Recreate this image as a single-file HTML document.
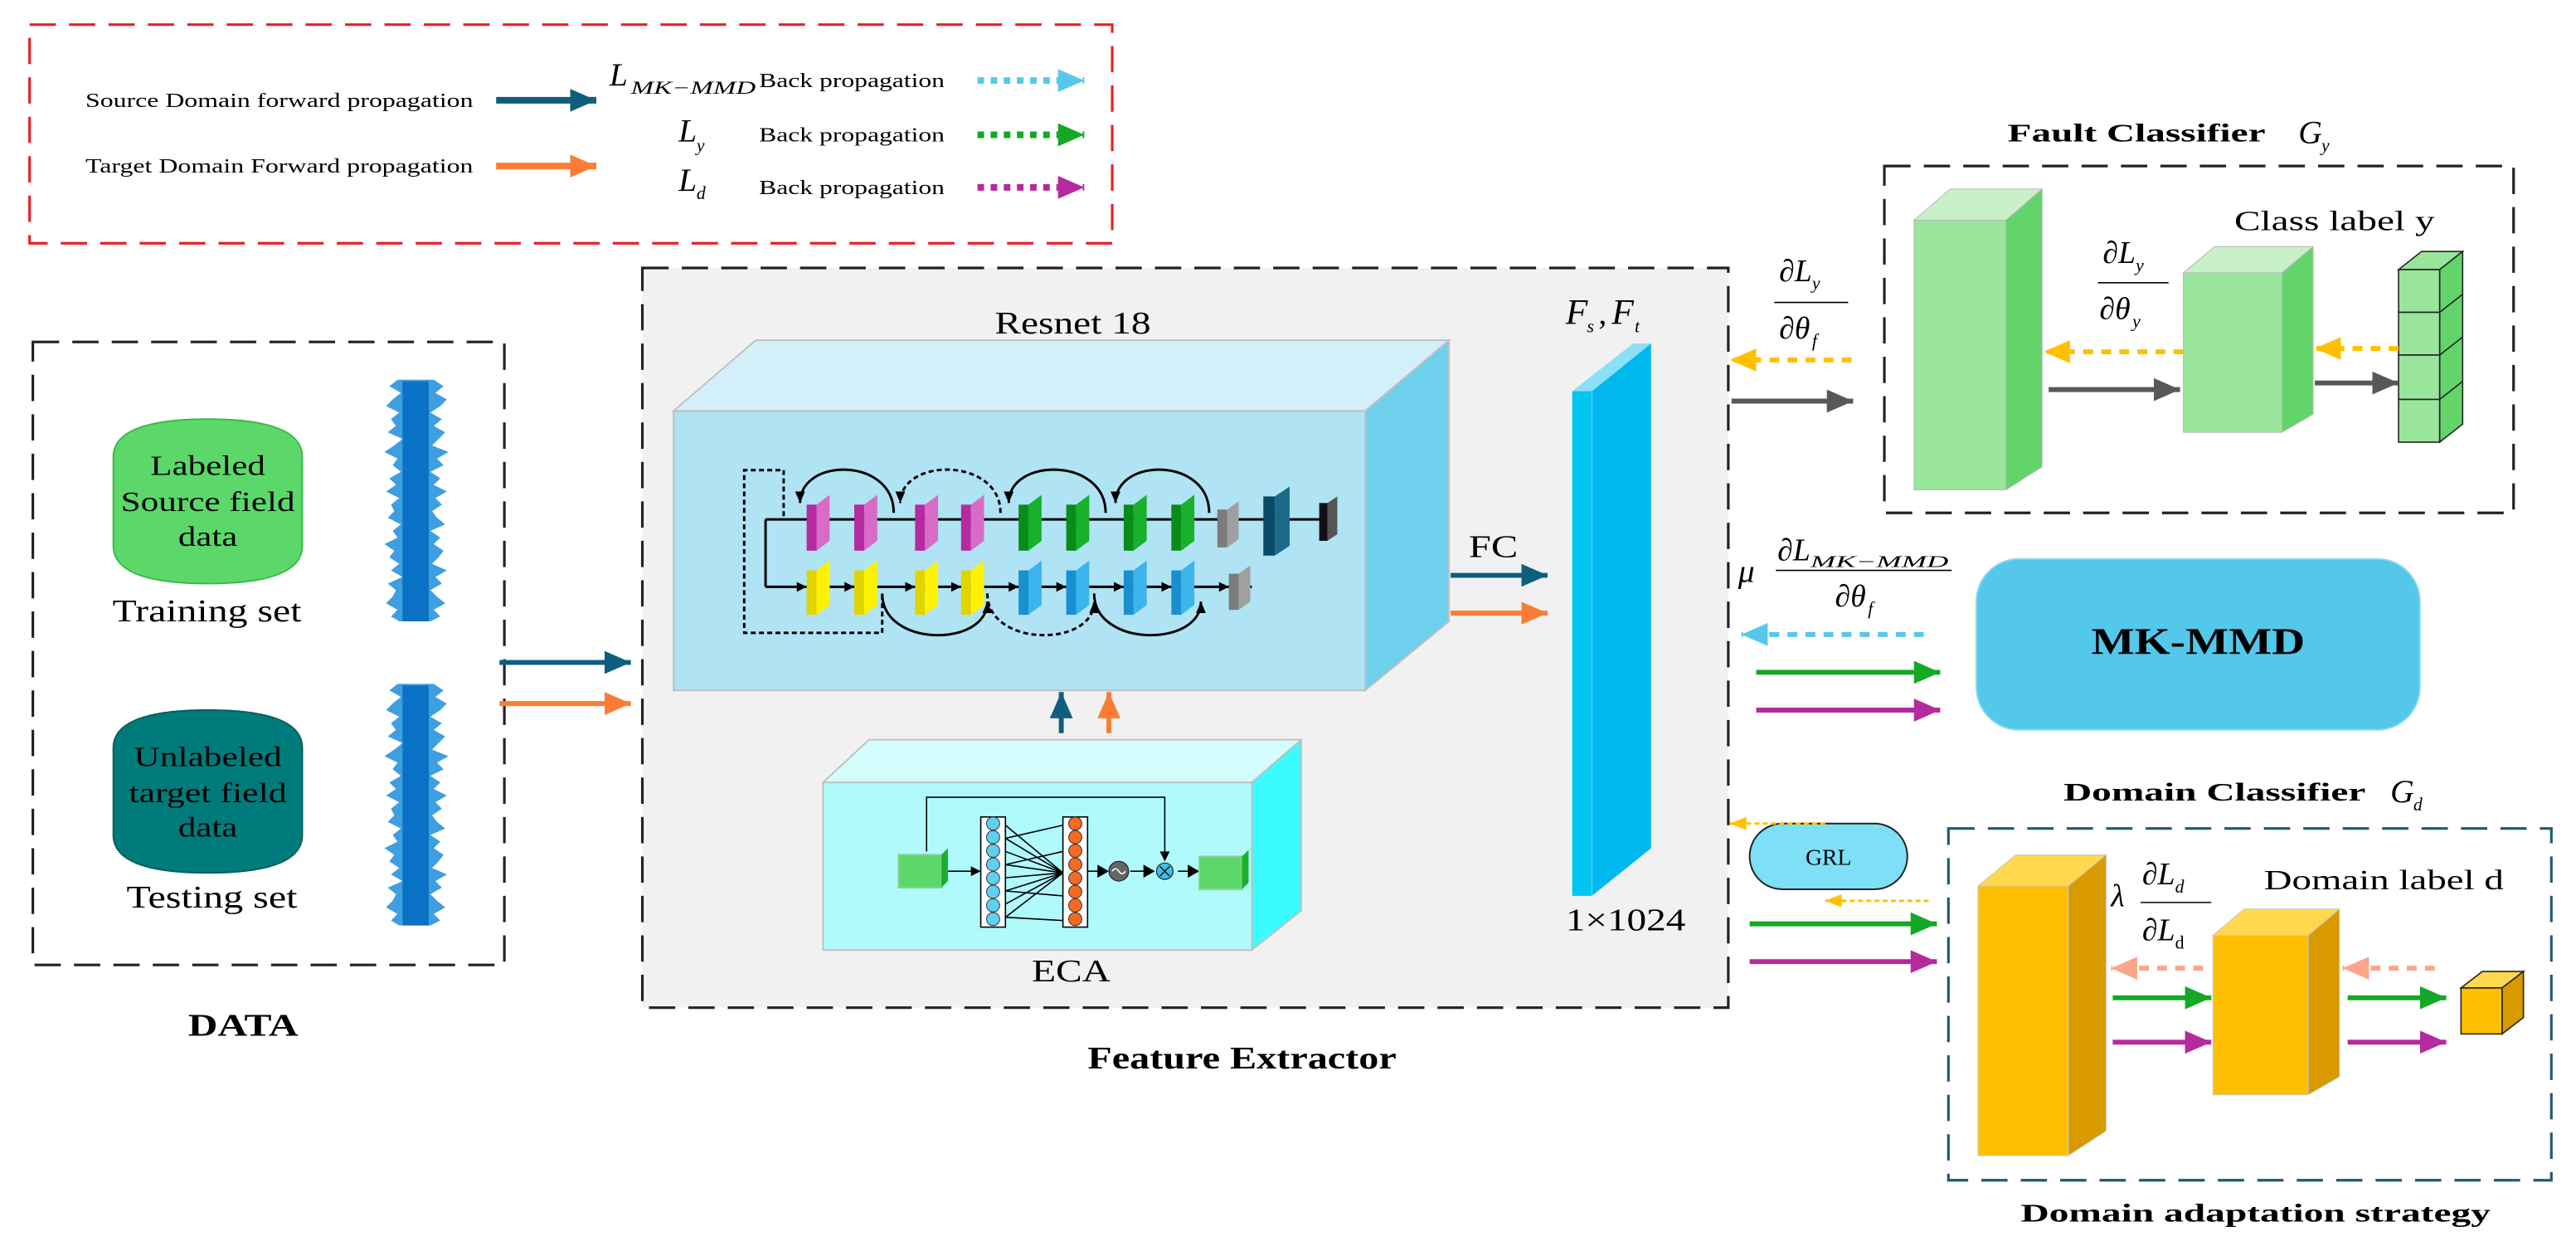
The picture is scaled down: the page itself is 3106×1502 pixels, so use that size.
<!DOCTYPE html>
<html><head><meta charset="utf-8"><style>html,body{margin:0;padding:0;background:#fff}svg{display:block}text{font-family:"Liberation Serif",serif}</style></head>
<body>
<svg width="3106" height="1502" viewBox="0 0 1568 758" preserveAspectRatio="none" xmlns="http://www.w3.org/2000/svg">
<defs>
<marker id="mT" markerWidth="16" markerHeight="14" refX="16" refY="7" orient="auto" markerUnits="userSpaceOnUse"><path d="M0,0 L16,7 L0,14 z" fill="#0e5f7e"/></marker>
<marker id="mO" markerWidth="16" markerHeight="14" refX="16" refY="7" orient="auto" markerUnits="userSpaceOnUse"><path d="M0,0 L16,7 L0,14 z" fill="#fb7d35"/></marker>
<marker id="mG" markerWidth="16" markerHeight="14" refX="16" refY="7" orient="auto" markerUnits="userSpaceOnUse"><path d="M0,0 L16,7 L0,14 z" fill="#14a826"/></marker>
<marker id="mM" markerWidth="16" markerHeight="14" refX="16" refY="7" orient="auto" markerUnits="userSpaceOnUse"><path d="M0,0 L16,7 L0,14 z" fill="#b52a9e"/></marker>
<marker id="mK" markerWidth="16" markerHeight="14" refX="16" refY="7" orient="auto" markerUnits="userSpaceOnUse"><path d="M0,0 L16,7 L0,14 z" fill="#585858"/></marker>
<marker id="mY" markerWidth="16" markerHeight="14" refX="16" refY="7" orient="auto" markerUnits="userSpaceOnUse"><path d="M0,0 L16,7 L0,14 z" fill="#ffc000"/></marker>
<marker id="mC" markerWidth="16" markerHeight="14" refX="16" refY="7" orient="auto" markerUnits="userSpaceOnUse"><path d="M0,0 L16,7 L0,14 z" fill="#56c8ec"/></marker>
<marker id="mS" markerWidth="16" markerHeight="14" refX="16" refY="7" orient="auto" markerUnits="userSpaceOnUse"><path d="M0,0 L16,7 L0,14 z" fill="#fba68a"/></marker>
<marker id="mYs" markerWidth="10" markerHeight="8" refX="10" refY="4" orient="auto" markerUnits="userSpaceOnUse"><path d="M0,0 L10,4 L0,8 z" fill="#ffc000"/></marker>
<marker id="mB" markerWidth="7" markerHeight="6" refX="7" refY="3" orient="auto" markerUnits="userSpaceOnUse"><path d="M0,0 L7,3 L0,6 z" fill="#000"/></marker>
</defs>

<!-- Legend -->
<rect x="18" y="15" width="659" height="133" fill="none" stroke="#e8202a" stroke-width="1.6" stroke-dasharray="16,8"/>
<text x="52" y="65" font-size="12.5" textLength="236" lengthAdjust="spacingAndGlyphs">Source Domain forward propagation</text>
<line x1="302" y1="61" x2="363" y2="61" stroke="#0e5f7e" stroke-width="4" marker-end="url(#mT)"/>
<text x="52" y="105" font-size="12.5" textLength="236" lengthAdjust="spacingAndGlyphs">Target Domain Forward propagation</text>
<line x1="302" y1="101" x2="363" y2="101" stroke="#fb7d35" stroke-width="4" marker-end="url(#mO)"/>
<text x="371" y="52" font-size="20" font-style="italic">L</text>
<text x="384" y="57" font-size="11" font-style="italic" textLength="76" lengthAdjust="spacingAndGlyphs">MK−MMD</text>
<text x="462" y="53" font-size="12.5" textLength="113" lengthAdjust="spacingAndGlyphs">Back propagation</text>
<line x1="595" y1="49" x2="660" y2="49" stroke="#56c8ec" stroke-width="4" stroke-dasharray="4,4" marker-end="url(#mC)"/>
<text x="413" y="86" font-size="20" font-style="italic">L</text>
<text x="424" y="92" font-size="11" font-style="italic">y</text>
<text x="462" y="86" font-size="12.5" textLength="113" lengthAdjust="spacingAndGlyphs">Back propagation</text>
<line x1="595" y1="82" x2="660" y2="82" stroke="#14a826" stroke-width="4" stroke-dasharray="4,4" marker-end="url(#mG)"/>
<text x="413" y="116" font-size="20" font-style="italic">L</text>
<text x="424" y="121" font-size="11" font-style="italic">d</text>
<text x="462" y="118" font-size="12.5" textLength="113" lengthAdjust="spacingAndGlyphs">Back propagation</text>
<line x1="595" y1="114" x2="660" y2="114" stroke="#b52a9e" stroke-width="4" stroke-dasharray="4,4" marker-end="url(#mM)"/>

<!-- DATA -->
<rect x="20" y="208" width="287" height="379" fill="none" stroke="#222" stroke-width="1.6" stroke-dasharray="16,8"/>
<path d="M69,278 Q69,255 126.5,255 Q184,255 184,278 L184,332 Q184,355 126.5,355 Q69,355 69,332 Z" fill="#5cd86a" stroke="#3cb94a"/>
<text x="126.5" y="289" font-size="17" text-anchor="middle" textLength="70" lengthAdjust="spacingAndGlyphs">Labeled</text>
<text x="126.5" y="311" font-size="17" text-anchor="middle" textLength="106" lengthAdjust="spacingAndGlyphs">Source field</text>
<text x="126.5" y="332" font-size="17" text-anchor="middle" textLength="36" lengthAdjust="spacingAndGlyphs">data</text>
<text x="126" y="378" font-size="19" text-anchor="middle" textLength="115" lengthAdjust="spacingAndGlyphs">Training set</text>
<path d="M69,455 Q69,432 126.5,432 Q184,432 184,455 L184,508 Q184,531 126.5,531 Q69,531 69,508 Z" fill="#007b7b" stroke="#006060"/>
<text x="126.5" y="466" font-size="17" text-anchor="middle" textLength="90" lengthAdjust="spacingAndGlyphs">Unlabeled</text>
<text x="126.5" y="488" font-size="17" text-anchor="middle" textLength="96" lengthAdjust="spacingAndGlyphs">target field</text>
<text x="126.5" y="509" font-size="17" text-anchor="middle" textLength="36" lengthAdjust="spacingAndGlyphs">data</text>
<text x="129" y="552" font-size="19" text-anchor="middle" textLength="104" lengthAdjust="spacingAndGlyphs">Testing set</text>
<g fill="#3f9ee0">
<polygon points="242,231 237,235 244,239 239,243 235,247 243,251 238,255 241,259 236,263 245,267 240,271 234,275 242,279 239,283 244,287 237,291 241,295 235,299 243,303 238,307 240,311 236,315 244,319 239,323 242,327 234,331 240,335 237,339 243,343 238,347 245,351 236,355 241,359 239,363 235,367 242,371 238,375 243,378 262,378 268,375 264,371 271,367 266,363 262,359 269,355 265,351 272,347 263,343 267,339 270,335 264,331 268,327 262,323 271,319 266,315 263,311 269,307 265,303 272,299 264,295 268,291 262,287 270,283 266,279 273,275 263,271 267,267 271,263 264,259 269,255 262,251 268,247 272,243 265,239 270,235 264,231"/>
<polygon points="242,416 237,420 244,424 239,428 235,432 243,436 238,440 241,444 236,448 245,452 240,456 234,460 242,464 239,468 244,472 237,476 241,480 235,484 243,488 238,492 240,496 236,500 244,504 239,508 242,512 234,516 240,520 237,524 243,528 238,532 245,536 236,540 241,544 239,548 235,552 242,556 238,560 243,563 262,563 268,560 264,556 271,552 266,548 262,544 269,540 265,536 272,532 263,528 267,524 270,520 264,516 268,512 262,508 271,504 266,500 263,496 269,492 265,488 272,484 264,480 268,476 262,472 270,468 266,464 273,460 263,456 267,452 271,448 264,444 269,440 262,436 268,432 272,428 265,424 270,420 264,416"/>
</g>
<g fill="#0a72c4"><rect x="245" y="232" width="16" height="146"/><rect x="245" y="417" width="16" height="146"/></g>
<text x="148" y="630" font-size="19" font-weight="bold" text-anchor="middle" textLength="67" lengthAdjust="spacingAndGlyphs">DATA</text>
<line x1="304" y1="403" x2="384" y2="403" stroke="#0e5f7e" stroke-width="3" marker-end="url(#mT)"/>
<line x1="304" y1="428" x2="384" y2="428" stroke="#fb7d35" stroke-width="3" marker-end="url(#mO)"/>

<!-- Feature Extractor -->
<rect x="391" y="163" width="661" height="450" fill="#f1f1f1" stroke="#222" stroke-width="1.6" stroke-dasharray="16,8"/>
<text x="756" y="650" font-size="19" font-weight="bold" text-anchor="middle" textLength="188" lengthAdjust="spacingAndGlyphs">Feature Extractor</text>
<text x="653" y="203" font-size="19" text-anchor="middle" textLength="95" lengthAdjust="spacingAndGlyphs">Resnet 18</text>
<polygon points="410,250 460,207 882,207 831,250" fill="#d3eff9" stroke="#c0c0c0"/>
<polygon points="831,250 882,207 882,378 831,420" fill="#6fd0ee" stroke="#c0c0c0"/>
<rect x="410" y="250" width="421" height="170" fill="#b0e3f4" stroke="#c0c0c0"/>

<g stroke="#000" stroke-width="1.5" fill="none">
<line x1="810" y1="316" x2="466" y2="316"/>
<line x1="466" y1="316" x2="466" y2="357"/>
<line x1="466" y1="357" x2="762" y2="357"/>
<path d="M477,314 L477,286 L453,286 L453,385 L537,385 L537,362" stroke-dasharray="3,2"/>
<path d="M544,312 C544,278 487,278 487,306" marker-end="url(#mB)"/>
<path d="M609,312 C609,278 548,278 548,306" stroke-dasharray="3,2" marker-end="url(#mB)"/>
<path d="M673,312 C673,278 614,278 614,306" marker-end="url(#mB)"/>
<path d="M736,312 C736,278 679,278 679,306" marker-end="url(#mB)"/>
<path d="M537,361 C537,394 601,394 601,366" marker-end="url(#mB)"/>
<path d="M601,361 C601,394 666,394 666,366" stroke-dasharray="3,2" marker-end="url(#mB)"/>
<path d="M666,361 C666,394 731,394 731,366" marker-end="url(#mB)"/>
</g>
<g fill="#000">
<polygon points="491,316 497,313 497,319"/><polygon points="520,316 526,313 526,319"/><polygon points="557,316 563,313 563,319"/><polygon points="585,316 591,313 591,319"/><polygon points="620,316 626,313 626,319"/><polygon points="649,316 655,313 655,319"/><polygon points="684,316 690,313 690,319"/><polygon points="713,316 719,313 719,319"/><polygon points="741,316 747,313 747,319"/><polygon points="769,316 775,313 775,319"/>
<polygon points="491,357 485,354 485,360"/><polygon points="520,357 514,354 514,360"/><polygon points="557,357 551,354 551,360"/><polygon points="585,357 579,354 579,360"/><polygon points="620,357 614,354 614,360"/><polygon points="649,357 643,354 643,360"/><polygon points="684,357 678,354 678,360"/><polygon points="713,357 707,354 707,360"/><polygon points="748,357 742,354 742,360"/>
</g>
<g stroke="none">
<g fill="#b52a9e"><rect x="491" y="307" width="6" height="28"/><rect x="520" y="307" width="6" height="28"/><rect x="557" y="307" width="6" height="28"/><rect x="585" y="307" width="6" height="28"/></g>
<g fill="#d86bc6"><polygon points="497,307 505,301 505,329 497,335"/><polygon points="526,307 534,301 534,329 526,335"/><polygon points="563,307 571,301 571,329 563,335"/><polygon points="591,307 599,301 599,329 591,335"/></g>
<g fill="#0a8c1a"><rect x="620" y="307" width="6" height="28"/><rect x="649" y="307" width="6" height="28"/><rect x="684" y="307" width="6" height="28"/><rect x="713" y="307" width="6" height="28"/></g>
<g fill="#18b02c"><polygon points="626,307 634,301 634,329 626,335"/><polygon points="655,307 663,301 663,329 655,335"/><polygon points="690,307 698,301 698,329 690,335"/><polygon points="719,307 727,301 727,329 719,335"/></g>
<rect x="741" y="310" width="6" height="23" fill="#7c7c7c"/><polygon points="747,310 754,305 754,328 747,333" fill="#a0a0a0"/>
<rect x="769" y="302" width="7" height="36" fill="#074a66"/><polygon points="776,302 785,296 785,332 776,338" fill="#1a6a8a"/>
<rect x="803" y="306" width="5" height="23" fill="#111"/><polygon points="808,306 814,302 814,325 808,329" fill="#555"/>
<g fill="#e0d400"><rect x="491" y="347" width="6" height="27"/><rect x="520" y="347" width="6" height="27"/><rect x="557" y="347" width="6" height="27"/><rect x="585" y="347" width="6" height="27"/></g>
<g fill="#fff200"><polygon points="497,347 505,341 505,368 497,374"/><polygon points="526,347 534,341 534,368 526,374"/><polygon points="563,347 571,341 571,368 563,374"/><polygon points="591,347 599,341 599,368 591,374"/></g>
<g fill="#1a8fd0"><rect x="620" y="347" width="6" height="27"/><rect x="649" y="347" width="6" height="27"/><rect x="684" y="347" width="6" height="27"/><rect x="713" y="347" width="6" height="27"/></g>
<g fill="#3cb4ec"><polygon points="626,347 634,341 634,368 626,374"/><polygon points="655,347 663,341 663,368 655,374"/><polygon points="690,347 698,341 698,368 690,374"/><polygon points="719,347 727,341 727,368 719,374"/></g>
<rect x="748" y="349" width="6" height="22" fill="#7c7c7c"/><polygon points="754,349 761,344 761,366 754,371" fill="#a0a0a0"/>
</g>

<text x="894" y="339" font-size="19" textLength="30" lengthAdjust="spacingAndGlyphs">FC</text>
<line x1="883" y1="350" x2="942" y2="350" stroke="#0e5f7e" stroke-width="3" marker-end="url(#mT)"/>
<line x1="883" y1="373" x2="942" y2="373" stroke="#fb7d35" stroke-width="3" marker-end="url(#mO)"/>

<line x1="646" y1="446" x2="646" y2="421" stroke="#0e5f7e" stroke-width="3" marker-end="url(#mT)"/>
<line x1="675" y1="446" x2="675" y2="421" stroke="#fb7d35" stroke-width="3" marker-end="url(#mO)"/>

<!-- ECA -->
<polygon points="501,476 529,450 792,450 762,476" fill="#d4fdfd" stroke="#c0c0c0"/>
<polygon points="762,476 792,450 792,554 762,578" fill="#3cfbff" stroke="#c0c0c0"/>
<rect x="501" y="476" width="261" height="102" fill="#b0fafc" stroke="#c0c0c0"/>
<text x="652" y="597" font-size="19" text-anchor="middle" textLength="48" lengthAdjust="spacingAndGlyphs">ECA</text>
<g stroke="#000" stroke-width="0.8" fill="none">
<path d="M564,518 L564,485 L709,485 L709,522"/>
<line x1="577" y1="530" x2="594" y2="530"/>
<path d="M612,502 L647,531 M612,510 L647,531 M612,518 L647,531 M612,526 L647,531 M612,534 L647,531 M612,542 L647,531 M612,550 L647,531 M612,558 L647,531 M612,510 L647,502 M612,558 L647,560 M612,526 L647,518 M612,542 L647,545"/>
<line x1="661" y1="530" x2="672" y2="530"/>
<line x1="688" y1="530" x2="701" y2="530"/>
<line x1="717" y1="530" x2="727" y2="530"/>
</g>
<g fill="#000"><polygon points="597,530 591,527 591,533"/><polygon points="675,530 668,526 668,534"/><polygon points="703,530 696,526 696,534"/><polygon points="730,530 723,526 723,534"/><polygon points="709,524 706,518 712,518"/></g>
<rect x="547" y="520" width="26" height="20" fill="#5cd86a" stroke="#8fcf8f"/><polygon points="573,520 577,516 577,536 573,540" fill="#18b02c"/>
<rect x="730" y="521" width="26" height="20" fill="#5cd86a" stroke="#8fcf8f"/><polygon points="756,521 760,517 760,537 756,541" fill="#18b02c"/>
<rect x="597" y="497" width="15" height="67" fill="#fff" stroke="#000" stroke-width="0.8"/>
<rect x="647" y="497" width="15" height="67" fill="#fff" stroke="#000" stroke-width="0.8"/>
<g fill="#5fd0f0" stroke="#333" stroke-width="0.5"><circle cx="604.5" cy="501" r="4"/><circle cx="604.5" cy="509.3" r="4"/><circle cx="604.5" cy="517.6" r="4"/><circle cx="604.5" cy="525.9" r="4"/><circle cx="604.5" cy="534.2" r="4"/><circle cx="604.5" cy="542.5" r="4"/><circle cx="604.5" cy="550.8" r="4"/><circle cx="604.5" cy="559.1" r="4"/></g>
<g fill="#f66a20" stroke="#333" stroke-width="0.5"><circle cx="654.5" cy="501" r="4"/><circle cx="654.5" cy="509.3" r="4"/><circle cx="654.5" cy="517.6" r="4"/><circle cx="654.5" cy="525.9" r="4"/><circle cx="654.5" cy="534.2" r="4"/><circle cx="654.5" cy="542.5" r="4"/><circle cx="654.5" cy="550.8" r="4"/><circle cx="654.5" cy="559.1" r="4"/></g>
<circle cx="681" cy="530" r="6" fill="#666" stroke="#222" stroke-width="0.6"/><path d="M677,530 q2,-3 4,0 q2,3 4,0" stroke="#fff" fill="none" stroke-width="0.8"/>
<circle cx="709" cy="530" r="5" fill="#3cc0f0" stroke="#222" stroke-width="0.6"/><path d="M706,527 L712,533 M712,527 L706,533" stroke="#222" stroke-width="0.8"/>

<!-- feature vector bar -->
<polygon points="957,238 994,209 1005,209 969,238" fill="#8be0f7"/>
<polygon points="969,238 1005,209 1005,516 969,545" fill="#00b8ee"/>
<rect x="957" y="238" width="12" height="307" fill="#00c6ef"/>
<line x1="969" y1="238" x2="969" y2="545" stroke="#5cd0f0" stroke-width="0.6"/>
<text x="953" y="197" font-size="22" font-style="italic">F</text><text x="966" y="202" font-size="11" font-style="italic">s</text><text x="973" y="197" font-size="20">,</text><text x="981" y="197" font-size="22" font-style="italic">F</text><text x="995" y="202" font-size="11" font-style="italic">t</text>
<text x="953" y="566" font-size="19" textLength="73" lengthAdjust="spacingAndGlyphs">1×1024</text>

<!-- Fault classifier -->
<text x="1222" y="86" font-size="15.5" font-weight="bold" textLength="157" lengthAdjust="spacingAndGlyphs">Fault Classifier</text>
<text x="1399" y="87" font-size="20" font-style="italic">G</text><text x="1413" y="92" font-size="11" font-style="italic">y</text>
<rect x="1147" y="101" width="383" height="211" fill="none" stroke="#222" stroke-width="1.6" stroke-dasharray="16,8"/>
<polygon points="1165,134 1187,115 1243,115 1221,134" fill="#c8f0c9" stroke="#b8b8b8" stroke-width="0.5"/>
<polygon points="1221,134 1243,115 1243,284 1221,298" fill="#62d46a" stroke="#b8b8b8" stroke-width="0.5"/>
<rect x="1165" y="134" width="56" height="164" fill="#9ae59c" stroke="#b8b8b8" stroke-width="0.5"/>
<polygon points="1329,166 1348,150 1408,150 1389,166" fill="#c8f0c9" stroke="#b8b8b8" stroke-width="0.5"/>
<polygon points="1389,166 1408,150 1408,252 1389,263" fill="#62d46a" stroke="#b8b8b8" stroke-width="0.5"/>
<rect x="1329" y="166" width="60" height="97" fill="#9ae59c" stroke="#b8b8b8" stroke-width="0.5"/>
<polygon points="1460,164 1474,153 1499,153 1485,164" fill="#9ae59c" stroke="#222" stroke-width="0.8"/>
<polygon points="1485,164 1499,153 1499,258 1485,269" fill="#62d46a" stroke="#222" stroke-width="0.8"/>
<g fill="#9ae59c" stroke="#222" stroke-width="0.8"><rect x="1460" y="164" width="25" height="26"/><rect x="1460" y="190" width="25" height="26"/><rect x="1460" y="216" width="25" height="27"/><rect x="1460" y="243" width="25" height="26"/></g>
<path d="M1485,190 L1499,179 M1485,216 L1499,205 M1485,243 L1499,232" stroke="#222" stroke-width="0.8"/>
<text x="1360" y="140" font-size="17" textLength="122" lengthAdjust="spacingAndGlyphs">Class label y</text>
<text x="1280" y="160" font-size="19" font-style="italic">∂L</text><text x="1300" y="165" font-size="11" font-style="italic">y</text>
<line x1="1277" y1="172" x2="1320" y2="172" stroke="#000" stroke-width="0.8"/>
<text x="1278" y="194" font-size="19" font-style="italic">∂θ</text><text x="1298" y="199" font-size="11" font-style="italic">y</text>
<line x1="1329" y1="214" x2="1244" y2="214" stroke="#ffc000" stroke-width="3" stroke-dasharray="6,5" marker-end="url(#mY)"/>
<line x1="1247" y1="237" x2="1327" y2="237" stroke="#585858" stroke-width="3" marker-end="url(#mK)"/>
<line x1="1460" y1="212" x2="1409" y2="212" stroke="#ffc000" stroke-width="3" stroke-dasharray="6,5" marker-end="url(#mY)"/>
<line x1="1409" y1="233" x2="1460" y2="233" stroke="#585858" stroke-width="3" marker-end="url(#mK)"/>
<text x="1083" y="171" font-size="19" font-style="italic">∂L</text><text x="1103" y="176" font-size="11" font-style="italic">y</text>
<line x1="1080" y1="184" x2="1125" y2="184" stroke="#000" stroke-width="0.8"/>
<text x="1083" y="206" font-size="19" font-style="italic">∂θ</text><text x="1103" y="211" font-size="11" font-style="italic">f</text>
<line x1="1127" y1="219" x2="1053" y2="219" stroke="#ffc000" stroke-width="3" stroke-dasharray="6,5" marker-end="url(#mY)"/>
<line x1="1054" y1="244" x2="1128" y2="244" stroke="#585858" stroke-width="3" marker-end="url(#mK)"/>

<!-- MK-MMD -->
<rect x="1203" y="340" width="270" height="104" rx="26" fill="#53c8ea" stroke="#8fd8ee"/>
<text x="1338" y="398" font-size="23" font-weight="bold" text-anchor="middle" textLength="130" lengthAdjust="spacingAndGlyphs">MK-MMD</text>
<text x="1058" y="354" font-size="20" font-style="italic">μ</text>
<text x="1082" y="341" font-size="19" font-style="italic">∂L</text><text x="1102" y="345" font-size="10" font-style="italic" textLength="84" lengthAdjust="spacingAndGlyphs">MK−MMD</text>
<line x1="1081" y1="347" x2="1188" y2="347" stroke="#000" stroke-width="0.8"/>
<text x="1117" y="369" font-size="19" font-style="italic">∂θ</text><text x="1137" y="374" font-size="11" font-style="italic">f</text>
<line x1="1171" y1="386" x2="1060" y2="386" stroke="#56c8ec" stroke-width="3" stroke-dasharray="6,5" marker-end="url(#mC)"/>
<line x1="1069" y1="409" x2="1181" y2="409" stroke="#14a826" stroke-width="3" marker-end="url(#mG)"/>
<line x1="1069" y1="432" x2="1181" y2="432" stroke="#b52a9e" stroke-width="3" marker-end="url(#mM)"/>

<!-- Domain classifier -->
<text x="1256" y="487" font-size="15.5" font-weight="bold" textLength="184" lengthAdjust="spacingAndGlyphs">Domain Classifier</text>
<text x="1455" y="488" font-size="20" font-style="italic">G</text><text x="1469" y="493" font-size="11" font-style="italic">d</text>
<rect x="1186" y="504" width="367" height="214" fill="none" stroke="#1f5a73" stroke-width="1.6" stroke-dasharray="16,8"/>
<text x="1230" y="743" font-size="15.5" font-weight="bold" textLength="286" lengthAdjust="spacingAndGlyphs">Domain adaptation strategy</text>
<rect x="1065" y="501" width="96" height="40" rx="20" fill="#7fdff7" stroke="#222" stroke-width="1"/>
<text x="1113" y="526" font-size="14" text-anchor="middle">GRL</text>
<line x1="1111" y1="501" x2="1053" y2="501" stroke="#ffc000" stroke-width="1.5" stroke-dasharray="3,2" marker-end="url(#mYs)"/>
<line x1="1174" y1="548" x2="1111" y2="548" stroke="#ffc000" stroke-width="1.5" stroke-dasharray="3,2" marker-end="url(#mYs)"/>
<line x1="1065" y1="562" x2="1179" y2="562" stroke="#14a826" stroke-width="3" marker-end="url(#mG)"/>
<line x1="1065" y1="585" x2="1179" y2="585" stroke="#b52a9e" stroke-width="3" marker-end="url(#mM)"/>
<polygon points="1204,539 1227,520 1282,520 1259,539" fill="#ffd84d" stroke="#c8c8c8" stroke-width="0.5"/>
<polygon points="1259,539 1282,520 1282,688 1259,703" fill="#d99a00" stroke="#c8c8c8" stroke-width="0.5"/>
<rect x="1204" y="539" width="55" height="164" fill="#fdbf00" stroke="#c8c8c8" stroke-width="0.5"/>
<polygon points="1347,569 1366,553 1424,553 1405,569" fill="#ffd84d" stroke="#c8c8c8" stroke-width="0.5"/>
<polygon points="1405,569 1424,553 1424,655 1405,666" fill="#d99a00" stroke="#c8c8c8" stroke-width="0.5"/>
<rect x="1347" y="569" width="58" height="97" fill="#fdbf00" stroke="#c8c8c8" stroke-width="0.5"/>
<polygon points="1498,601 1511,591 1536,591 1523,601" fill="#ffd84d" stroke="#222" stroke-width="0.8"/>
<polygon points="1523,601 1536,591 1536,619 1523,629" fill="#d99a00" stroke="#222" stroke-width="0.8"/>
<rect x="1498" y="601" width="25" height="28" fill="#fdbf00" stroke="#222" stroke-width="0.8"/>
<text x="1285" y="551" font-size="19" font-style="italic">λ</text>
<text x="1304" y="538" font-size="19" font-style="italic">∂L</text><text x="1324" y="543" font-size="11" font-style="italic">d</text>
<line x1="1303" y1="549" x2="1346" y2="549" stroke="#000" stroke-width="0.8"/>
<text x="1304" y="572" font-size="19" font-style="italic">∂L</text><text x="1324" y="577" font-size="11">d</text>
<text x="1378" y="541" font-size="17" textLength="146" lengthAdjust="spacingAndGlyphs">Domain label d</text>
<line x1="1341" y1="589" x2="1285" y2="589" stroke="#fba68a" stroke-width="3" stroke-dasharray="6,5" marker-end="url(#mS)"/>
<line x1="1482" y1="589" x2="1426" y2="589" stroke="#fba68a" stroke-width="3" stroke-dasharray="6,5" marker-end="url(#mS)"/>
<line x1="1286" y1="607" x2="1346" y2="607" stroke="#14a826" stroke-width="3" marker-end="url(#mG)"/>
<line x1="1286" y1="634" x2="1346" y2="634" stroke="#b52a9e" stroke-width="3" marker-end="url(#mM)"/>
<line x1="1429" y1="607" x2="1489" y2="607" stroke="#14a826" stroke-width="3" marker-end="url(#mG)"/>
<line x1="1429" y1="634" x2="1489" y2="634" stroke="#b52a9e" stroke-width="3" marker-end="url(#mM)"/>
</svg>
</body></html>
